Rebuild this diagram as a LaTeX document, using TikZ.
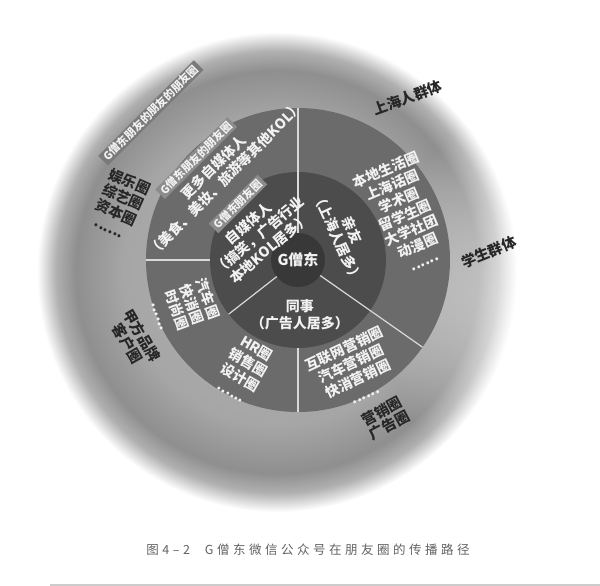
\documentclass[tikz,border=0pt]{standalone}
\usepackage{fontspec}
\setmainfont{Noto Sans CJK SC}
\newfontfamily\capfont{Noto Sans CJK SC}[LetterSpace=28]
\usetikzlibrary{calc,fadings}
\colorlet{ringGray}{black!58}
\colorlet{discGray}{black!70}
\colorlet{coreGray}{black!78}
\colorlet{bandGray}{black!45}
\colorlet{labelDark}{black!85}
\colorlet{textWhite}{white!95!black}
\newcommand{\sixdots}{......}
\newcommand{\heavytext}[1]{\fontsize{#1}{16.5}\selectfont\bfseries}
\pgfdeclareradialshading{halo}{\pgfpointorigin}{color(0bp)=(black!30); color(16bp)=(black!35); color(21bp)=(black!44); color(23bp)=(black!31); color(25bp)=(white); color(50bp)=(white)}
\tikzfading[name=sidefade, inner color=transparent!0, outer color=transparent!100]
\tikzset{
  ringtext/.style={text=textWhite, font=\heavytext{14}, align=center, inner sep=0pt},
  outtext/.style={text=labelDark, font=\heavytext{14.5}, align=center, inner sep=0pt},
  bandlabel/.style={fill=bandGray, text=textWhite, font=\heavytext{11}, inner xsep=3pt, inner ysep=1.5pt},
  divider/.style={draw=white!85!black, line width=1.2pt},
}
\begin{document}
\begin{tikzpicture}[x=1pt, y=1pt]
    \useasboundingbox (-298,-326) rectangle (302,260);
    \clip (-298,-326) rectangle (302,260);

    % halo and the three circles
    \shade[shading=halo] (-21,-12) circle (240);
    \fill[white, path fading=sidefade] (312,-40) circle (230);
    \fill[ringGray] (0,0) circle (152);
    \fill[discGray] (0,0) circle (88);
    \node[circle, fill=coreGray, minimum size=54pt, inner sep=0pt, text=textWhite,
        font=\heavytext{15}] (core) at (0,0) {G僧东};

    \foreach \ang/\rin/\rout in {90/27/152, 180/88/152, 218/27/88, 270/88/152, 325/27/152}
        \draw[divider] (\ang:\rin) -- (\ang:\rout);

    % bands
    \node[bandlabel, rotate=45] (friends1) at (137:82) {G僧东朋友圈};
    \node[bandlabel, rotate=45] (friends2) at (135:144) {G僧东朋友的朋友圈};
    \node[bandlabel, rotate=45, fill=black!52] (friends3) at (135:208) {G僧东朋友的朋友的朋友圈};

    % inner disc
    \node[ringtext, rotate=40] (selfmedia) at (148:46) {自媒体人\\（搞笑，广告行业\\本地KOL居多）};
    \node[ringtext, rotate=-65] (kin) at (29:54) {亲友\\（上海人居多）};
    \node[ringtext] (colleague) at (2,-55) {同事\\（广告人居多）};

    % middle ring
    \node[ringtext, rotate=45] (moremedia) at (132:117) {更多自媒体人\\（美食、美妆、旅游等其他KOL）};
    \node[ringtext, rotate=23] (local) at (23:116) {本地生活圈\\上海话圈\\学术圈\\留学生圈\\大学社团\\动漫圈\\\sixdots};
    \node[ringtext, rotate=-70] (carfmcg) at (-113,-47) {汽车圈\\快消圈\\时尚圈\\\sixdots};
    \node[ringtext, rotate=-30] (hrsales) at (244:122) {HR圈\\销售圈\\设计圈\\\sixdots};
    \node[ringtext, rotate=25] (marketing) at (297:124) {互联网营销圈\\汽车营销圈\\快消营销圈\\\sixdots};

    % outside
    \node[outtext, rotate=20] (shanghai) at (56:196) {上海人群体};
    \node[outtext, rotate=22] (students) at (2.4:191) {学生群体};
    \node[outtext, rotate=28] (adcircle) at (299:181) {营销圈\\广告圈};
    \node[outtext, rotate=-60] (client) at (206:181.6) {甲方品牌\\客户圈};
    \node[outtext, rotate=-24] (showbiz) at (-178,56) {娱乐圈\\综艺圈\\资本圈\\\sixdots};

    \node[text=black!62, font=\capfont\fontsize{12.5}{14}\selectfont] (caption) at (10,-290)
        {图4–2\hspace{1.2em}G僧东微信公众号在朋友圈的传播路径};
    \draw[black!20, line width=1.5pt] (-248,-325) -- (302,-325);
\end{tikzpicture}
\end{document}
